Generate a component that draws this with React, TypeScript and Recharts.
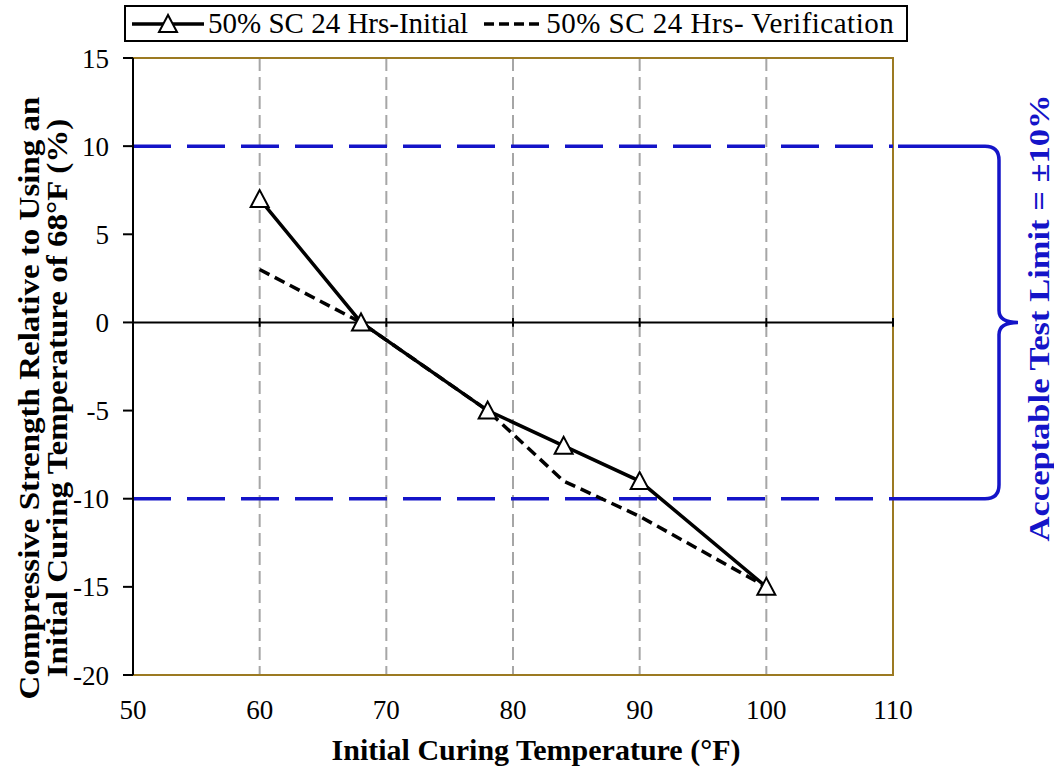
import React from 'react'
import { LineChart, CartesianGrid, XAxis, YAxis, Line, ReferenceLine, ReferenceArea } from 'recharts'

// values
const temps = [60, 68, 78, 84, 90, 100]
const initial = [7, 0, -5, -7, -9, -15]
const verification = [3, 0, -5, -9, -11, -15]
const xTicks = [50, 60, 70, 80, 90, 100, 110]
const yTicks = [-20, -15, -10, -5, 0, 5, 10, 15]
const limits = [10, -10]

const data = temps.map((t, i) => ({ temp: t, initial: initial[i], verification: verification[i] }))

const serif = 'Liberation Serif, Tinos, DejaVu Serif, serif'
const blue = '#1414C8'
const gold = '#9C7A22'

const Triangle = (props: any) => {
    const { cx, cy } = props
    if (cx == null || cy == null) return null
    return (
        <polygon
            points={`${cx},${cy - 9} ${cx - 9},${cy + 8} ${cx + 9},${cy + 8}`}
            fill="#fff" stroke="#000" strokeWidth={2}
        />
    )
}

// curly brace drawn between the two limit points
const Brace = (props: any) => {
    const { x1, y1, y2 } = props
    const xs = x1 + 5
    const xv = x1 + 106
    const r = 14
    const ym = (y1 + y2) / 2
    const d = [
        `M ${xs} ${y1}`,
        `L ${xv - r} ${y1}`,
        `Q ${xv} ${y1} ${xv} ${y1 + r}`,
        `L ${xv} ${ym - 12}`,
        `Q ${xv} ${ym} ${xv + 19} ${ym}`,
        `Q ${xv} ${ym} ${xv} ${ym + 12}`,
        `L ${xv} ${y2 - r}`,
        `Q ${xv} ${y2} ${xv - r} ${y2}`,
        `L ${x1} ${y2}`,
    ].join(' ')
    return <path d={d} fill="none" stroke={blue} strokeWidth={3.5} />
}

const Legend = () => (
    <div style={{
        position: 'absolute', left: 124, top: 5, width: 780, height: 33,
        border: '2px solid #000', background: '#fff', display: 'flex', alignItems: 'center',
        fontFamily: serif, fontSize: 29, whiteSpace: 'nowrap'
    }}>
        <svg width={76} height={24} style={{ marginLeft: 4 }}>
            <line x1={2} y1={12} x2={74} y2={12} stroke="#000" strokeWidth={3.5} />
            <polygon points="38,3 29,20 47,20" fill="#fff" stroke="#000" strokeWidth={2} />
        </svg>
        <span style={{ marginLeft: 2 }}>50% SC 24 Hrs-Initial</span>
        <svg width={62} height={24} style={{ marginLeft: 14 }}>
            <line x1={2} y1={12} x2={60} y2={12} stroke="#000" strokeWidth={3.5} strokeDasharray="10 5" />
        </svg>
        <span style={{ marginLeft: 2, letterSpacing: 0.5 }}>50% SC 24 Hrs- Verification</span>
    </div>
)

export default function App() {
    return (
        <div style={{ position: 'absolute', left: 0, top: 0, width: 1054, height: 769, background: '#fff' }}>
            <LineChart width={1054} height={769} data={data} margin={{ top: 58, right: 161, bottom: 0, left: 0 }}>
                <CartesianGrid horizontal={false} stroke="#A6A6A6" strokeWidth={2} strokeDasharray="13 6" />
                <ReferenceArea x1={50} x2={110} y1={-20} y2={15} fill="none" stroke={gold} strokeWidth={2} />
                <XAxis
                    dataKey="temp" type="number" domain={[50, 110]} ticks={xTicks} height={94}
                    axisLine={{ stroke: gold, strokeWidth: 2 }} tickLine={false} tickSize={0} tickMargin={25}
                    tick={{ fill: '#000', fontSize: 27, fontFamily: serif }}
                />
                <YAxis
                    type="number" domain={[-20, 15]} ticks={yTicks} width={133}
                    axisLine={{ stroke: '#000', strokeWidth: 2 }} tickLine={{ stroke: '#000', strokeWidth: 2 }}
                    tickSize={10} tickMargin={14}
                    tick={{ fill: '#000', fontSize: 27, fontFamily: serif }}
                />
                <ReferenceLine y={0} stroke="#000" strokeWidth={2} />
                {xTicks.slice(1).map(t => (
                    <ReferenceLine key={t} segment={[{ x: t, y: -0.25 }, { x: t, y: 0.25 }]} stroke="#000" strokeWidth={2} />
                ))}
                {limits.map(v => (
                    <ReferenceLine key={v} y={v} stroke={blue} strokeWidth={3.5} strokeDasharray="38 16" />
                ))}
                <ReferenceLine
                    segment={[{ x: 110, y: limits[0] }, { x: 110, y: limits[1] }]}
                    ifOverflow="visible" shape={Brace}
                />
                <Line
                    dataKey="verification" stroke="#000" strokeWidth={3.5} strokeDasharray="11 6"
                    dot={false} activeDot={false} isAnimationActive={false}
                />
                <Line
                    dataKey="initial" stroke="#000" strokeWidth={3.5}
                    dot={<Triangle />} activeDot={false} isAnimationActive={false}
                />
            </LineChart>
            <Legend />
            <div style={{
                position: 'absolute', left: 43, top: 398, transform: 'translate(-50%, -50%) rotate(-90deg) scaleX(1.1)',
                fontFamily: serif, fontWeight: 'bold', fontSize: 30, lineHeight: '28px',
                textAlign: 'center', whiteSpace: 'nowrap'
            }}>
                Compressive Strength Relative to Using an<br />Initial Curing Temperature of 68°F (%)
            </div>
            <div style={{
                position: 'absolute', left: 536, top: 750, transform: 'translate(-50%, -50%)',
                fontFamily: serif, fontWeight: 'bold', fontSize: 30, whiteSpace: 'nowrap'
            }}>
                Initial Curing Temperature (°F)
            </div>
            <div style={{
                position: 'absolute', left: 1039, top: 318, transform: 'translate(-50%, -50%) rotate(-90deg) scaleX(1.15)',
                fontFamily: serif, fontWeight: 'bold', fontSize: 30, color: blue, whiteSpace: 'nowrap'
            }}>
                Acceptable Test Limit = ±10%
            </div>
        </div>
    )
}
